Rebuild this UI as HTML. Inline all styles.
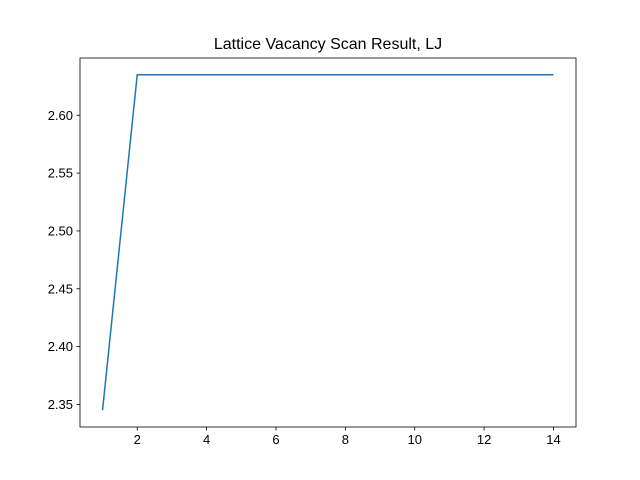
<!DOCTYPE html>
<html><head><meta charset="utf-8"><style>
body{margin:0;background:#fff;}
svg{display:block;font-family:"Liberation Sans","DejaVu Sans",sans-serif;}
</style></head><body>
<svg id="c" width="640" height="480">
<rect x="0" y="0" width="640" height="480" fill="#fff"/>
<text x="328" y="49" font-size="16" text-anchor="middle">Lattice Vacancy Scan Result, LJ</text>
</svg>
<script>
const xs=[1,2,3,4,5,6,7,8,9,10,11,12,13,14];
const ys=[2.345,2.635,2.635,2.635,2.635,2.635,2.635,2.635,2.635,2.635,2.635,2.635,2.635,2.635];
const xTicks=[2,4,6,8,10,12,14];
const yTicks=[2.35,2.40,2.45,2.50,2.55,2.60];
const svg=document.getElementById('c');
const NS='http://www.w3.org/2000/svg';
const L=80,R=576,T=58,B=427;
const xMin=0.35,xMax=14.65;
const yMin=2.3305,yMax=2.6495;
function sx(v){return L+(v-xMin)/(xMax-xMin)*(R-L);}
function sy(v){return B-(v-yMin)/(yMax-yMin)*(B-T);}
function mk(t,a){const e=document.createElementNS(NS,t);for(const k in a)e.setAttribute(k,a[k]);svg.appendChild(e);return e;}
const line=mk('polyline',{points:xs.map((x,i)=>sx(x)+','+sy(ys[i])).join(' '),fill:'none',stroke:'#1f77b4','stroke-width':1.5});


xTicks.forEach(v=>{
 const t=mk('line',{x1:sx(v),x2:sx(v),y1:B,y2:B+3.5,stroke:'#000','stroke-width':0.8});
 
 
 const l=mk('text',{x:sx(v),y:B+17,'font-size':13,'text-anchor':'middle'});l.textContent=v;
 
 
});
yTicks.forEach(v=>{
 const t=mk('line',{x1:L-3.5,x2:L,y1:sy(v),y2:sy(v),stroke:'#000','stroke-width':0.8});
 
 
 const l=mk('text',{x:L-7,y:sy(v)+4.5,'font-size':13,'text-anchor':'end'});l.textContent=v.toFixed(2);
 
 
});
const f=mk('rect',{x:L,y:T,width:R-L,height:B-T,fill:'none',stroke:'#000','stroke-width':0.8});


</script>
</body></html>
